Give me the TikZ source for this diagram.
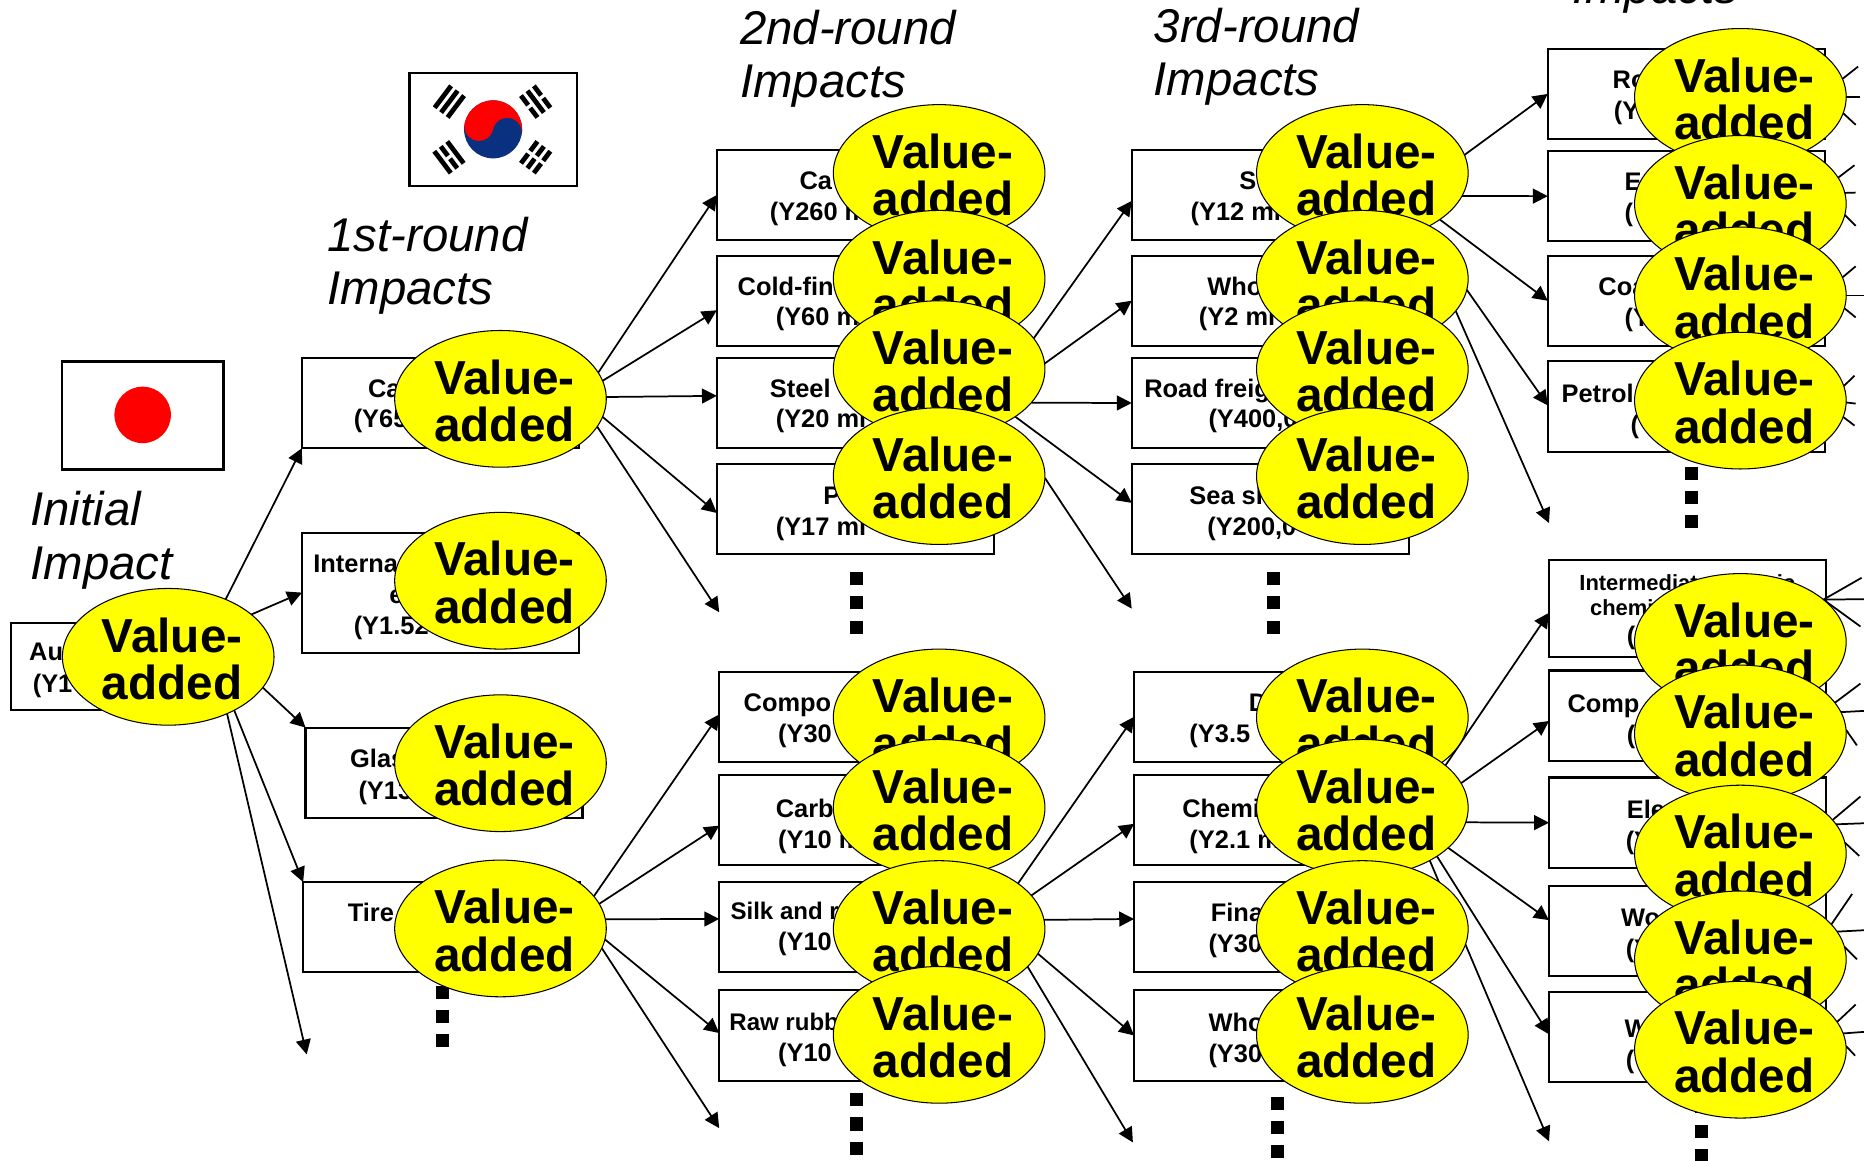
\documentclass[tikz,border=0pt]{standalone}
\usepackage{fontspec}
\setmainfont{Liberation Sans}
\usetikzlibrary{arrows.meta,backgrounds,calc,shapes.geometric}
\definecolor{valueyellow}{RGB}{255,255,0}
\definecolor{flagred}{RGB}{255,0,0}
\definecolor{flagblue}{RGB}{10,48,128}
\begin{document}
\begin{tikzpicture}[x=0.12mm,y=-0.12mm,>={Triangle[length=1.5mm,width=1.5mm]},
  value node/.style={ellipse,draw,fill=valueyellow,line width=0.3pt,inner sep=0pt,outer sep=0pt,
    minimum width=21.36mm,minimum height=13.8mm,align=center,
    font=\bfseries\fontsize{13.7}{13.6}\selectfont},
  box node/.style={rectangle,draw,line width=0.6pt,inner sep=0pt,outer sep=0pt,
    minimum width=27.96mm,minimum height=9.12mm},
  text node/.style={anchor=base west,inner sep=0pt,font=\bfseries\fontsize{7.3}{8.5}\selectfont},
  head node/.style={anchor=west,inner sep=0pt,align=left,font=\itshape\fontsize{13.6}{15.3}\selectfont},
  dot node/.style={fill=black,inner sep=0pt,minimum size=1.32mm},
  flag node/.style={draw,line width=0.7pt,inner sep=0pt,outer sep=0pt}]
  \useasboundingbox (0,0) rectangle (1568,976);

  % value-added ellipses, later ones lie on top
  \foreach \n/\x/\y in {e0/141.5/552.5,
      e11/421/335.5,e12/421/488.5,e13/421/642,e14/421/781,
      e21/790/145.5,e22/790/234.5,e23/790/310.5,e24/790/400.5,
      e25/790/603.5,e26/790/679.5,e27/790/781.5,e28/790/870.5,
      e31/1146/145.5,e32/1146/234.5,e33/1146/310.5,e34/1146/400.5,
      e35/1146/603.5,e36/1146/679.5,e37/1146/781.5,e38/1146/870.5,
      e41/1464/81.5,e42/1464/171.5,e43/1464/248.5,e44/1464/337,
      e45/1464/540,e46/1464/617,e47/1464/718,e48/1464/807,e49/1464/883}
    \node[value node] (\n) at (\x,\y) {\rule{0pt}{11pt}\,Value-\\\,added};

  \begin{scope}[on background layer]
  % flags
  \node[flag node,minimum width=16.32mm,minimum height=10.92mm] (japan) at (120,349.5) {};
  \fill[flagred] (120,349) circle (2.85mm);
  \node[flag node,minimum width=16.92mm,minimum height=11.4mm] (korea) at (414.8,109) {};
  \fill[flagblue] (414.8,108.8) circle (2.93mm);
  \begin{scope}[shift={(414.8,108.8)},rotate=-12]
    \fill[flagred] (-2.93mm,0) arc[start angle=180,end angle=0,radius=2.93mm]
      arc[start angle=0,end angle=180,radius=1.465mm]
      arc[start angle=0,end angle=-180,radius=1.465mm] -- cycle;
  \end{scope}
  \foreach \cx/\cy/\ang/\pa/\pb/\pc in {378/85.5/53/0/0/0,450.6/85.5/127/1/0/1,
      377.7/132.3/127/0/1/0,450.6/132.3/53/1/1/1} {
    \begin{scope}[shift={(\cx,\cy)},rotate=\ang]
      \foreach \off/\brk in {-6.8/\pa,0/\pb,6.8/\pc} {
        \ifnum\brk=1
          \draw[line width=0.48mm,dash pattern=on 1.2mm off 0.36mm] (-11.5,\off) -- (11.5,\off);
        \else
          \draw[line width=0.48mm] (-11.5,\off) -- (11.5,\off);
        \fi
      }
    \end{scope}
  }

  % boxes
  \node[box node,minimum width=21.72mm,minimum height=8.76mm] (b0) at (99.5,560.5) {};
  \node[box node] (b11) at (370.5,339) {};
  \node[box node,minimum height=12.12mm] (b12) at (370.5,498.5) {};
  \node[box node] (b13) at (373.5,650) {};
  \node[box node] (b14) at (371.5,780) {};
  \foreach \n/\x/\y in {b21/719.5/164,b22/719.5/253,b23/719.5/339,b24/719.5/428,
      b25/721.5/603,b26/721.5/690,b27/721.5/780,b28/721.5/871,
      b31/1068.5/164,b32/1068.5/253,b33/1068.5/339,b34/1068.5/428,
      b35/1070.5/603,b36/1070.5/690,b37/1070.5/780,b38/1070.5/871,
      b41/1418.5/79,b42/1418.5/165,b43/1418.5/253,b44/1418.5/342,
      b46/1419.5/602,b47/1419.5/692,b48/1419.5/783,b49/1419.5/872.5}
    \node[box node] (\n) at (\x,\y) {};
  \node[box node,minimum height=9.84mm] (b45) at (1419.5,512) {};

  % what shows of the box labels
  \foreach \n/\x/\y/\t in {a1/24/555.5/Au,a2/27/582.5/(Y1,
      a3/309/334.5/Ca,a4/297/359.5/(Y65,a5/263/481.5/Interna,a6/327/507.5/e,a7/297/533.5/(Y1.52,
      a8/294/645.5/Glas,a9/301/672.5/(Y13,a10/292/775.5/Tire,
      c1/672/159.5/Ca,c2/647/185.5/(Y260 mi,c3/620/248.5/Cold-fin,c4/652/273.5/(Y60 mi,
      c5/647/334.5/Steel,c6/652/359.5/(Y20 mi,c7/692/424.5/P,c8/652/450.5/(Y17 mi,
      c9/625/598.5/Compo,c10/654/624.5/(Y30,c11/652/687.5/Carb,c12/654/713.5/(Y10 m,
      c13/614/773.5/{\fontsize{6.9}{8}\selectfont Silk and r},c14/654/799.5/(Y10,
      c15/613/866.5/{\fontsize{6.9}{8}\selectfont Raw rubb},c16/654/892.5/(Y10,
      d1/1042/159.5/S,d2/1001/185.5/(Y12 mi,d3/1015/248.5/Who,d4/1008/273.5/(Y2 mi,
      d5/962/334.5/Road freig,d6/1016/359.5/{(Y400,0},d7/1000/424.5/Sea sh,d8/1015/450.5/{(Y200,0},
      d9/1050/598.5/D,d10/1000/624.5/(Y3.5,d11/994/687.5/Chemi,d12/1000/713.5/(Y2.1 m,
      d13/1018/775.5/Fina,d14/1016/801.5/(Y30,d15/1016/867.5/Who,d16/1016/893.5/(Y30,
      f1/1356/74.5/Ro,f2/1357/100.5/(Y,f3/1366/160.5/E,f4/1366/186.5/(,
      f5/1344/248.5/Coa,f6/1366/274.5/(Y,f7/1313/338.5/Petrol,f8/1371/364.5/(,
      f9/1368/542.5/(,f10/1318/599.5/Comp,f11/1368/625.5/(,f12/1368/688.5/Ele,f13/1367/714.5/(Y,
      f14/1363/779.5/Wo,f15/1367/805.5/(Y,f16/1366/872.5/W,f17/1367/898.5/(Y}
    \node[text node] (\n) at (\x,\y) {\t};
  \node[text node,font=\bfseries\fontsize{6.3}{7.5}\selectfont] (f18) at (1328,497) {Intermediate organic};
  \node[text node,font=\bfseries\fontsize{6.3}{7.5}\selectfont] (f19) at (1337,518) {chemi};

  % headings
  \node[head node] (h0) at (25,454.5) {Initial\\Impact};
  \node[head node] (h1) at (275,223.5) {1st-round\\Impacts};
  \node[head node] (h2) at (622,49.5) {2nd-round\\Impacts};
  \node[head node] (h3) at (970,47.5) {3rd-round\\Impacts};
  \node[head node,anchor=base west] (h4) at (1322,3) {Impacts};

  % dots
  \foreach \n/\x/\y in {1/372.5/834.5,2/720.5/486.5,3/1071.5/486.5,4/720.5/925,
      5/1074.5/928,6/1422.5/398,7/1431.5/931}
    \foreach \k in {0,1,2}
      \node[dot node] (dot\n\k) at (\x,\y+\k*20.5) {};

  % arrows without a box at the end
  \coordinate (free0) at (258,887);
  \coordinate (free1) at (605,515);
  \coordinate (free2) at (605,949);
  \coordinate (free3) at (952,512);
  \coordinate (free4) at (953,961);
  \coordinate (free5) at (1303,440);
  \coordinate (free6) at (1303,960);

  % arrows
  \path[->,line width=0.5pt]
    (e0.45) edge (b11.south west)
    (e0.27) edge (b12.west)
    (e0.-18) edge (b13.north west)
    (e0.-39) edge (b14.north west)
    (e0.-44) edge (free0)
    (e11.15) edge (b21.west)
    (e11.10) edge ($(b22.west)+(0,8)$)
    (e11.1.6) edge ($(b23.west)+(0,-6)$)
    (e11.-10) edge ($(b24.west)+(0,3.5)$)
    (e11.-16) edge (free1)
    (e14.19) edge ($(b25.west)+(0,-2)$)
    (e14.14) edge ($(b26.west)+(0,4.5)$)
    (e14.5.2) edge ($(b27.west)+(0,-7)$)
    (e14.-6) edge ($(b28.west)+(0,-2)$)
    (e14.-11) edge (free2)
    (e23.18) edge ($(b31.west)+(0,5)$)
    (e23.3) edge (b32.west)
    (e23.-20.2) edge (b33.west)
    (e23.-32) edge ($(b34.west)+(0,-5)$)
    (e24.-1) edge (free3)
    (e27.30) edge (b35.west)
    (e27.20) edge ($(b36.west)+(0,3)$)
    (e27.5.5) edge ($(b37.west)+(0,-7)$)
    (e27.-14) edge (b38.west)
    (e27.-23) edge (free4)
    (e31.10) edge (b41.west)
    (e31.-13.1) edge (b42.west)
    (e31.-31) edge (b43.west)
    (e32.-6) edge ($(b44.west)+(0,-1)$)
    (e32.-19) edge (free5)
    (e36.27) edge ($(b45.west)+(0,3.5)$)
    (e36.14) edge ($(b46.west)+(0,4.5)$)
    (e36.-8.2) edge (b47.west)
    (e36.-25) edge ($(b48.west)+(0,-9)$)
    (e36.-33) edge ($(b49.west)+(0,-2.5)$)
    (e36.-38) edge (free6);

  % short lines leaving the last column
  \foreach \i/\n/\a/\x/\y in {1/e41/10/1563/56,2/e41/0/1565/81.5,3/e41/-9/1561/105,
      4/e42/15/1560/139,5/e42/6.2/1561/162,6/e42/-6/1561/190,
      7/e43/10/1561/224,8/e43/0/1568/248.5,9/e43/-7/1561/267,
      10/e44/8/1560/316,11/e44/-1.6/1561/339.5,12/e44/-9/1560/358,
      13/e45/27/1566/486,14/e45/27/1568/504,15/e45/27/1565/527,
      16/e46/18/1565/575,17/e46/12.7/1568/598,18/e46/2/1562/627,
      19/e47/20/1565/670,20/e47/17.7/1568/692.5,21/e47/6/1564/720,
      22/e48/21/1558/752,23/e48/16.9/1568/782.5,24/e48/7/1562/807,
      25/e49/16/1561/845,26/e49/9.9/1568/868,27/e49/2/1560.5/888} {
    \coordinate (stub\i) at (\x,\y);
    \draw[line width=0.5pt] (\n.\a) -- (stub\i);
  }
  \end{scope}
\end{tikzpicture}
\end{document}
